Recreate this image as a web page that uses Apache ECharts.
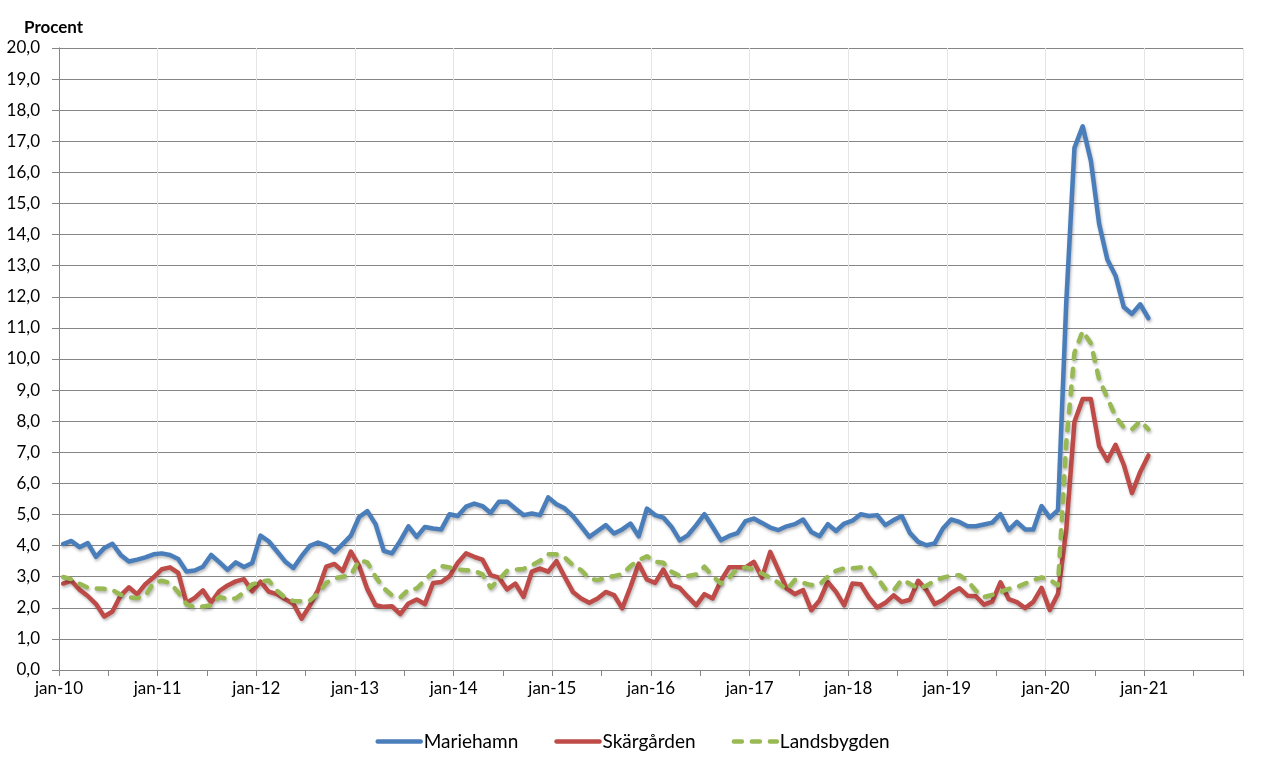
<!DOCTYPE html>
<html>
<head>
<meta charset="utf-8">
<script src="https://cdn.jsdelivr.net/npm/echarts@6/dist/echarts.min.js"></script>
<style>
html,body{margin:0;padding:0;background:#fff;}
#chart{width:1265px;height:769px;}
</style>
</head>
<body>
<div id="chart"></div>
<script>
// Month tick labels (every January)
var yearLabels = ['jan-10','jan-11','jan-12','jan-13','jan-14','jan-15','jan-16','jan-17','jan-18','jan-19','jan-20','jan-21'];
var monthsOnAxis = 144; // jan-10 .. dec-21

var mariehamn = [
4.05,4.15,3.95,4.08,3.64,3.92,4.06,3.70,3.49,3.55,3.62,3.72,
3.75,3.70,3.57,3.17,3.20,3.32,3.70,3.47,3.22,3.46,3.31,3.44,
4.32,4.14,3.82,3.49,3.28,3.66,3.99,4.10,4.00,3.79,4.05,4.32,
4.92,5.11,4.69,3.83,3.75,4.15,4.62,4.28,4.60,4.55,4.52,5.01,
4.95,5.25,5.35,5.27,5.05,5.41,5.41,5.19,4.98,5.03,4.98,5.55,
5.33,5.20,4.95,4.62,4.28,4.47,4.66,4.39,4.52,4.71,4.30,5.19,
4.98,4.90,4.60,4.17,4.34,4.66,5.01,4.60,4.17,4.31,4.40,4.79,
4.87,4.73,4.58,4.50,4.62,4.69,4.84,4.44,4.30,4.69,4.47,4.71,
4.80,5.01,4.95,4.98,4.66,4.82,4.95,4.40,4.12,4.01,4.07,4.55,
4.84,4.76,4.62,4.62,4.68,4.74,5.01,4.50,4.76,4.52,4.52,5.27,
4.90,5.14,11.8,16.79,17.48,16.37,14.35,13.20,12.68,11.67,11.45,11.76,
11.31
];

var skargarden = [
2.78,2.87,2.58,2.38,2.12,1.72,1.88,2.40,2.66,2.43,2.76,2.98,
3.24,3.30,3.12,2.16,2.32,2.56,2.17,2.54,2.72,2.85,2.92,2.53,
2.84,2.52,2.44,2.28,2.13,1.65,2.07,2.57,3.32,3.41,3.18,3.81,
3.35,2.60,2.08,2.03,2.05,1.80,2.14,2.27,2.12,2.80,2.83,3.02,
3.45,3.75,3.64,3.55,3.05,2.97,2.59,2.78,2.35,3.16,3.26,3.16,
3.50,3.00,2.51,2.30,2.16,2.30,2.51,2.41,1.98,2.67,3.42,2.91,
2.80,3.23,2.73,2.64,2.35,2.08,2.44,2.30,2.87,3.30,3.30,3.30,
3.48,2.97,3.80,3.21,2.62,2.44,2.57,1.92,2.24,2.83,2.51,2.08,
2.78,2.76,2.33,2.01,2.16,2.40,2.19,2.26,2.87,2.57,2.12,2.25,
2.48,2.63,2.39,2.37,2.10,2.20,2.82,2.28,2.18,1.99,2.19,2.64,
1.93,2.45,4.50,7.98,8.71,8.71,7.20,6.73,7.24,6.60,5.69,6.37,
6.90
];

var landsbygden = [
2.99,2.92,2.77,2.65,2.62,2.61,2.57,2.42,2.34,2.31,2.39,2.80,
2.87,2.80,2.50,2.12,2.02,2.04,2.08,2.35,2.28,2.30,2.50,2.75,
2.85,2.88,2.55,2.32,2.22,2.21,2.23,2.46,2.80,2.95,3.00,3.06,
3.53,3.46,3.00,2.63,2.40,2.33,2.59,2.62,2.89,3.16,3.34,3.30,
3.23,3.21,3.19,3.08,2.65,2.91,3.19,3.23,3.25,3.37,3.51,3.72,
3.72,3.62,3.37,3.21,2.94,2.89,2.97,3.02,3.08,3.34,3.53,3.66,
3.48,3.45,3.16,3.02,3.02,3.07,3.32,3.02,2.78,2.97,3.26,3.30,
3.23,3.10,2.97,2.80,2.58,2.90,2.80,2.73,2.75,3.00,3.19,3.27,
3.27,3.30,3.32,2.97,2.60,2.56,2.90,2.77,2.62,2.71,2.87,2.97,
3.03,3.05,2.87,2.55,2.35,2.41,2.51,2.61,2.67,2.78,2.89,2.98,
2.90,2.72,7.30,10.20,10.90,10.50,9.35,8.75,8.15,7.80,7.74,8.00,
7.74
];

var seriesNames = ['Mariehamn','Skärgården','Landsbygden'];
var seriesColors = ['#4A7EBB','#BE4B48','#98B954'];

function toPoints(arr){ return arr.map(function(v,i){ return [i+0.5, v]; }); }

var FONT = 'Lato';
var chart = echarts.init(document.getElementById('chart'), null, {renderer:'canvas'});

var shadow = {shadowColor:'rgba(0,0,0,0.28)', shadowBlur:3, shadowOffsetX:1, shadowOffsetY:2};

function lineSeries(idx, data, dashed){
  var ls = Object.assign({width:4.5, color:seriesColors[idx], join:'round', cap:'round'}, shadow);
  if(dashed){ ls.type=[8,10]; ls.cap='round'; }
  return {
    name: seriesNames[idx], type:'line', xAxisIndex:0, yAxisIndex:0,
    data: toPoints(data), symbol:'none', showSymbol:false, smooth:false,
    lineStyle: ls, itemStyle:{color:seriesColors[idx]},
    emphasis:{disabled:true}, animation:false
  };
}

var option = {
  animation:false,
  textStyle:{fontFamily:FONT},
  title:{text:'Procent', left:19, top:14, textStyle:{fontFamily:FONT, fontSize:17, fontWeight:'bold', color:'#000'}},
  grid:{left:59, right:22, top:48, bottom:99, containLabel:false},
  legend:{
    data:seriesNames, left:'center', top:727, itemWidth:43, itemHeight:14, itemGap:36,
    itemStyle:{color:'rgba(0,0,0,0)', borderWidth:0, opacity:0},
    lineStyle:{width:4.5, cap:'round', shadowBlur:0, shadowOffsetX:0, shadowOffsetY:0},
    textStyle:{fontFamily:FONT, fontSize:19, color:'#000', padding:[0,0,0,-2]}
  },
  xAxis:[
    {type:'value', min:0, max:monthsOnAxis, interval:6, position:'bottom',
     axisLine:{show:true, lineStyle:{color:'#868686', width:1}},
     axisTick:{show:true, inside:false, length:6, lineStyle:{color:'#868686'}},
     axisLabel:{show:true, margin:10, fontFamily:FONT, fontSize:17, color:'#000',
       formatter:function(v){ if(v%12===0){ var l=yearLabels[v/12]; return l?l:''; } return ''; }},
     splitLine:{show:false}},
    {type:'value', min:0, max:monthsOnAxis, interval:12, position:'bottom',
     axisLine:{show:false}, axisTick:{show:false}, axisLabel:{show:false},
     splitLine:{show:true, lineStyle:{color:'#e4e4e4', width:1}}}
  ],
  yAxis:[
    {type:'value', min:0, max:20, interval:1,
     axisLine:{show:true, lineStyle:{color:'#868686', width:1}},
     axisTick:{show:true, inside:false, length:7, lineStyle:{color:'#868686'}},
     axisLabel:{margin:19, fontFamily:FONT, fontSize:17, color:'#000',
       formatter:function(v){ return v.toFixed(1).replace('.', ','); }},
     splitLine:{show:true, lineStyle:{color:'#868686', width:1}}},
    {type:'value', min:0, max:20, interval:1, position:'right',
     axisLine:{show:true, lineStyle:{color:'#868686', width:1}},
     axisTick:{show:false}, axisLabel:{show:false}, splitLine:{show:false}}
  ],
  series:[
    lineSeries(0, mariehamn, false),
    lineSeries(1, skargarden, false),
    lineSeries(2, landsbygden, true)
  ]
};
chart.setOption(option);
</script>
</body>
</html>
